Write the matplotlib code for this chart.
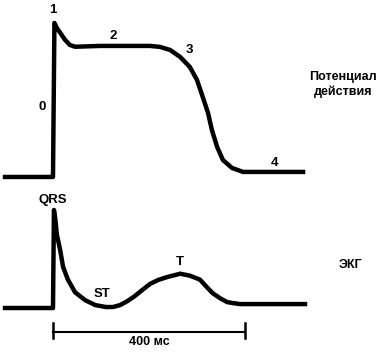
import matplotlib.pyplot as plt

## Data (time in ms, 0 = upstroke / QRS)
# Action potential, mV
ap_t = [-100, 0, 3, 8, 15, 25, 35, 46, 98, 160, 202, 223, 244, 265, 285, 300, 312, 323, 331, 342,
        354, 373, 396, 521]
ap_mv = [-90, -90, 20, 16.4, 13, 8, 4.3, 3, 3.6, 3.6, 3.6, 2.9, 0.7, -4.3, -11.4, -20.7, -32.9,
         -44.3, -56.4, -68.6, -77.9, -83.6, -86.4, -86.4]
ap_phases = ["0", "1", "2", "3", "4"]
ap_phase_t = [-23, 0, 125, 285, 462]
ap_phase_mv = [-40, 29, 11, 1, -80]

# ECG, mV
ecg_t = [-100, 0, 2, 5, 8, 15, 21, 31, 46, 67, 88, 110, 125, 140, 155, 170, 185, 202, 219,
         238, 255, 265, 285, 306, 321, 333, 348, 363, 375, 390, 525]
ecg_mv = [0, 0, 1.0, 0.9, 0.75, 0.59, 0.42, 0.29, 0.16, 0.08, 0.03, 0.01, 0.01, 0.03, 0.07, 0.12,
          0.18, 0.245, 0.286, 0.316, 0.337, 0.35, 0.33, 0.29, 0.21, 0.15, 0.10, 0.06, 0.05, 0.04, 0.04]
ecg_waves = ["QRS", "ST", "T"]
ecg_wave_t = [0, 102, 265]
ecg_wave_mv = [1.10, 0.14, 0.47]

# scale bar
bar_ms = 400

## Figure
plt.rcParams["font.family"] = ["Liberation Sans", "DejaVu Sans"]
fig = plt.figure(figsize=(3.89, 3.53), dpi=100)
xlim = (-110.4, 700)

# top panel: action potential
ax_ap = fig.add_axes([0, 0.4618, 1, 0.5382])
ax_ap.plot(ap_t, ap_mv, color="black", lw=3.2, solid_joinstyle="round")
for lab, t, v in zip(ap_phases, ap_phase_t, ap_phase_mv):
    ax_ap.text(t, v, lab, ha="center", va="center", fontsize=9.5, fontweight="bold")
ax_ap.text(604, -24, "Потенциал\nдействия", ha="center", va="center",
           fontsize=9, fontweight="bold", linespacing=1.2)
ax_ap.set_xlim(xlim)
ax_ap.set_ylim(-99.3, 36.4)
ax_ap.axis("off")

# bottom panel: ECG
ax_ecg = fig.add_axes([0, 0, 1, 0.4618])
ax_ecg.plot(ecg_t, ecg_mv, color="black", lw=3.2, solid_joinstyle="round")
for lab, t, v in zip(ecg_waves, ecg_wave_t, ecg_wave_mv):
    ax_ecg.text(t, v, lab, ha="center", va="center", fontsize=9.5, fontweight="bold")
ax_ecg.text(619, 0.44, "ЭКГ", ha="center", va="center", fontsize=9, fontweight="bold")

# 400 ms scale bar
ax_ecg.plot([0, bar_ms], [-0.245, -0.245], color="black", lw=1.5)
for t in [0, bar_ms]:
    ax_ecg.plot([t, t], [-0.153, -0.306], color="black", lw=1.8)
ax_ecg.text(bar_ms / 2, -0.35, f"{bar_ms} мс", ha="center", va="center",
            fontsize=9, fontweight="bold")
ax_ecg.set_xlim(xlim)
ax_ecg.set_ylim(-0.459, 1.204)
ax_ecg.axis("off")

plt.savefig("out.png", dpi=100)
